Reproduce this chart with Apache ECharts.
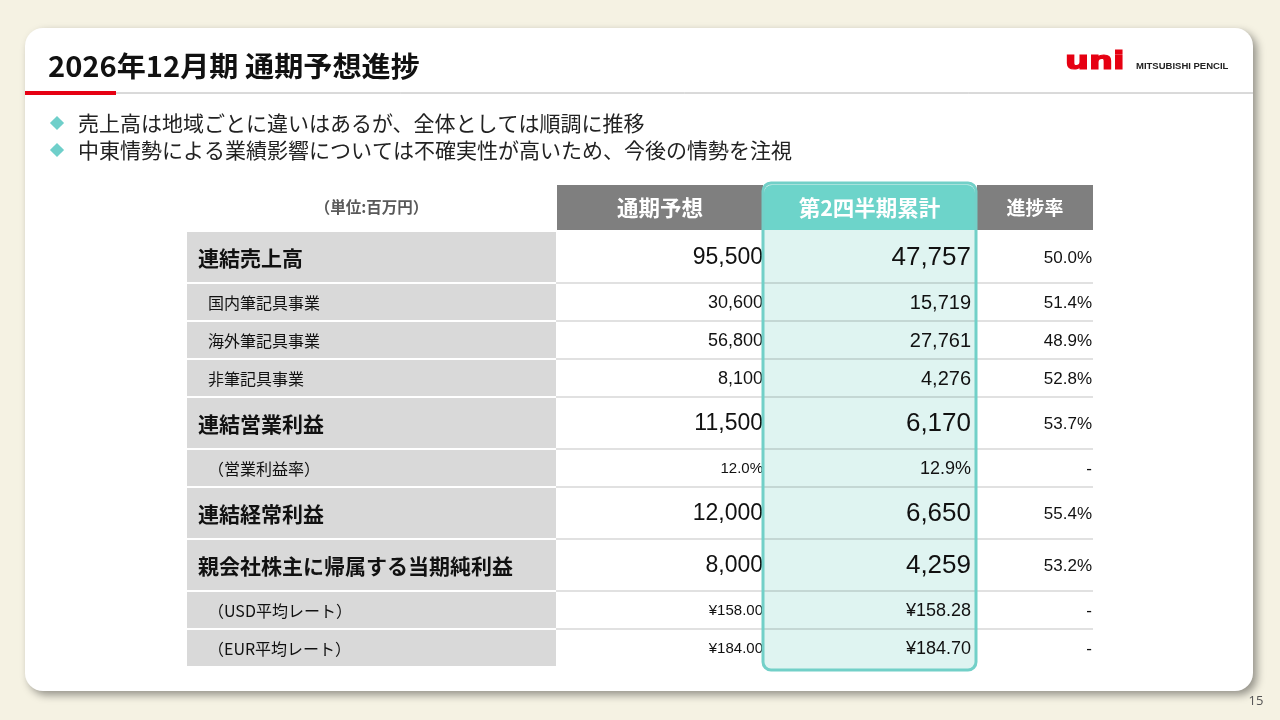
<!DOCTYPE html>
<html lang="ja">
<head>
<meta charset="UTF-8">
<title>2026年12月期 通期予想進捗</title>
<style>
  html, body { margin: 0; padding: 0; background: #f5f2e3; }
  #main { width: 1280px; height: 720px; }
</style>
<script src="https://cdn.jsdelivr.net/npm/echarts@6/dist/echarts.min.js"></script>
</head>
<body>
<div id="main"></div>
<script>
// 表のデータ
const titleText = '2026年12月期 通期予想進捗';
const bulletTexts = [
  '売上高は地域ごとに違いはあるが、全体としては順調に推移',
  '中東情勢による業績影響については不確実性が高いため、今後の情勢を注視'
];
const unitLabel = '（単位:百万円）';
const columnNames = ['通期予想', '第2四半期累計', '進捗率'];
const rowLabels = [
  '連結売上高', '国内筆記具事業', '海外筆記具事業', '非筆記具事業',
  '連結営業利益', '（営業利益率）', '連結経常利益',
  '親会社株主に帰属する当期純利益', '（USD平均レート）', '（EUR平均レート）'
];
// main = 主項目, sub = 内訳・参考
const rowLevels = ['main', 'sub', 'sub', 'sub', 'main', 'sub', 'main', 'main', 'sub', 'sub'];
const rowFormats = ['amount', 'amount', 'amount', 'amount', 'amount', 'percent', 'amount', 'amount', 'yen', 'yen'];
const fullYearForecast = [95500, 30600, 56800, 8100, 11500, 12.0, 12000, 8000, 158.00, 184.00];
const q2Cumulative = [47757, 15719, 27761, 4276, 6170, 12.9, 6650, 4259, 158.28, 184.70];
const progressRate = [50.0, 51.4, 48.9, 52.8, 53.7, null, 55.4, 53.2, null, null];

// レイアウト（表の単位）
const colWidths = [369, 207, 212, 118];
const headerHeight = 47;
const rowHeight = { main: 52, sub: 38 };
const colEdges = colWidths.reduce((a, w) => a.concat(a[a.length - 1] + w), [0]);
const rowEdges = [0, headerHeight];
rowLevels.forEach(l => rowEdges.push(rowEdges[rowEdges.length - 1] + rowHeight[l]));
const tableW = colEdges[colEdges.length - 1];
const tableH = rowEdges[rowEdges.length - 1];

const CJK = 'Noto Sans CJK JP';
const NUM = 'Liberation Sans';
const GRAY_HEAD = '#7f7f7f';
const TEAL = '#6dd4ca';
const TEAL_LIGHT = '#dff4f1';
const TEAL_BORDER = '#72d0c8';

const valueColumns = [fullYearForecast, q2Cumulative, progressRate];

function formatValue(v, fmt) {
  if (v === null || v === undefined) return '-';
  if (fmt === 'percent') return v.toFixed(1) + '%';
  if (fmt === 'yen') return '¥' + v.toFixed(2);
  return v.toLocaleString('en-US');
}

function valueFontSize(c, level, fmt) {
  if (c === 3) return 17;
  if (level === 'main') return c === 1 ? 23 : 26;
  if (fmt === 'amount') return c === 1 ? 18 : 20;
  return c === 1 ? 15 : 18;
}

function cellBox(api, c, r) {
  const p0 = api.coord([colEdges[c], rowEdges[r]]);
  const p1 = api.coord([colEdges[c + 1], rowEdges[r + 1]]);
  return { x: p0[0], y: p0[1], w: p1[0] - p0[0], h: p1[1] - p0[1] };
}

// セル一覧 [列, 行]
const cellData = [];
for (let r = 0; r <= rowLabels.length; r++) {
  for (let c = 0; c < colWidths.length; c++) cellData.push([c, r]);
}

function renderCell(params, api) {
  const c = api.value(0);
  const r = api.value(1);
  const b = cellBox(api, c, r);
  const children = [];
  const cy = b.y + (b.h - 2) / 2;

  if (r === 0) {
    if (c === 0) {
      children.push({ type: 'text', style: {
        text: unitLabel, x: b.x + b.w / 2, y: cy, align: 'center', verticalAlign: 'middle',
        fill: '#595959', font: 'bold 15.5px "' + CJK + '"' } });
    } else {
      const left = c === 3 ? b.x + 2 : b.x + 1;
      children.push({ type: 'rect',
        shape: { x: left, y: b.y, width: b.x + b.w - left, height: b.h - 2, r: c === 2 ? [8, 8, 0, 0] : 0 },
        style: { fill: c === 2 ? TEAL : GRAY_HEAD } });
      children.push({ type: 'text', style: {
        text: columnNames[c - 1], x: (left + b.x + b.w) / 2, y: cy, align: 'center', verticalAlign: 'middle',
        fill: '#ffffff', font: 'bold ' + (c === 3 ? 19 : 21.5) + 'px "' + CJK + '"' } });
    }
    return { type: 'group', children: children };
  }

  const i = r - 1;
  const level = rowLevels[i];
  if (c === 0) {
    children.push({ type: 'rect', shape: { x: b.x, y: b.y, width: b.w, height: b.h - 2 },
      style: { fill: '#d9d9d9' } });
    children.push({ type: 'text', style: {
      text: rowLabels[i], x: b.x + (level === 'main' ? 11 : 21), y: cy + 1,
      align: 'left', verticalAlign: 'middle', fill: '#111111',
      font: (level === 'main' ? 'bold 21px' : '16px') + ' "' + CJK + '"' } });
  } else {
    if (i < rowLabels.length - 1) {
      children.push({ type: 'line', shape: { x1: b.x, y1: b.y + b.h - 1, x2: b.x + b.w, y2: b.y + b.h - 1 },
        style: { stroke: 'rgba(0,0,0,0.16)', lineWidth: 1.5 } });
    }
    const rightPad = c === 1 ? 0 : (c === 2 ? 4 : 1);
    const fmt = c === 3 ? 'percent' : rowFormats[i];
    children.push({ type: 'text', style: {
      text: formatValue(valueColumns[c - 1][i], fmt),
      x: b.x + b.w - rightPad, y: cy + 1, align: 'right', verticalAlign: 'middle',
      fill: '#111111', font: valueFontSize(c, level, rowFormats[i]) + 'px "' + NUM + '"' } });
  }
  return { type: 'group', children: children };
}

function highlightBox(api) {
  const p0 = api.coord([colEdges[2], 0]);
  const p1 = api.coord([colEdges[3], tableH]);
  return { x: p0[0], y: p0[1] - 2, width: p1[0] - p0[0] + 1, height: p1[1] - p0[1] + 4, r: 8 };
}

const chart = echarts.init(document.getElementById('main'));
chart.setOption({
  backgroundColor: '#f5f2e3',
  animation: false,
  grid: { left: 187, top: 185, width: tableW, height: tableH },
  xAxis: { type: 'value', min: 0, max: tableW, show: false },
  yAxis: { type: 'value', min: 0, max: tableH, inverse: true, show: false },
  graphic: [
    { type: 'rect', z: 0, shape: { x: 25, y: 28, width: 1228, height: 663, r: 18 },
      style: { fill: '#ffffff', shadowBlur: 8, shadowOffsetX: 4, shadowOffsetY: 4, shadowColor: 'rgba(0,0,0,0.4)' } },
    { type: 'text', z: 1, x: 48, y: 66, scaleX: 1.04, style: { text: titleText, fill: '#111111',
      font: 'bold 28px "' + CJK + '"', verticalAlign: 'middle' } },
    { type: 'line', z: 1, shape: { x1: 116, y1: 93, x2: 1253, y2: 93 }, style: { stroke: '#b4b4b4', lineWidth: 1 } },
    { type: 'rect', z: 1, shape: { x: 25, y: 91, width: 91, height: 4 }, style: { fill: '#e60012' } },
    { type: 'text', z: 1, x: 1065, y: 62, scaleX: 1.35, style: { text: 'uni', fill: '#e60012',
      font: '900 25px "DejaVu Sans"', verticalAlign: 'middle', stroke: '#e60012', lineWidth: 1.2 } },
    { type: 'text', z: 1, x: 1136, y: 66, style: { text: 'MITSUBISHI PENCIL', fill: '#222222',
      font: 'bold 9.5px "Liberation Sans"', verticalAlign: 'middle' } },
    { type: 'rect', z: 1, x: 57, y: 123, rotation: Math.PI / 4, shape: { x: -5, y: -5, width: 10, height: 10 },
      style: { fill: '#6fcfca' } },
    { type: 'rect', z: 1, x: 57, y: 150, rotation: Math.PI / 4, shape: { x: -5, y: -5, width: 10, height: 10 },
      style: { fill: '#6fcfca' } },
    { type: 'text', z: 1, x: 78, y: 123, style: { text: bulletTexts[0], fill: '#222222',
      font: '21px "' + CJK + '"', verticalAlign: 'middle' } },
    { type: 'text', z: 1, x: 78, y: 150, style: { text: bulletTexts[1], fill: '#222222',
      font: '21px "' + CJK + '"', verticalAlign: 'middle' } },
    { type: 'text', z: 1, x: 1256, y: 701, style: { text: '15', fill: '#555555',
      font: '13px "Open Sans"', align: 'center', verticalAlign: 'middle' } }
  ],
  series: [
    {
      type: 'custom', z: 2, silent: true, data: [[0, 0]],
      renderItem: (params, api) => ({ type: 'rect', shape: highlightBox(api), style: { fill: TEAL_LIGHT } })
    },
    {
      type: 'custom', z: 3, silent: true, data: cellData,
      encode: { x: 0, y: 1 },
      renderItem: renderCell
    },
    {
      type: 'custom', z: 4, silent: true, data: [[0, 0]],
      renderItem: (params, api) => ({ type: 'rect', shape: highlightBox(api),
        style: { fill: 'none', stroke: TEAL_BORDER, lineWidth: 3 } })
    }
  ]
});
</script>
</body>
</html>
